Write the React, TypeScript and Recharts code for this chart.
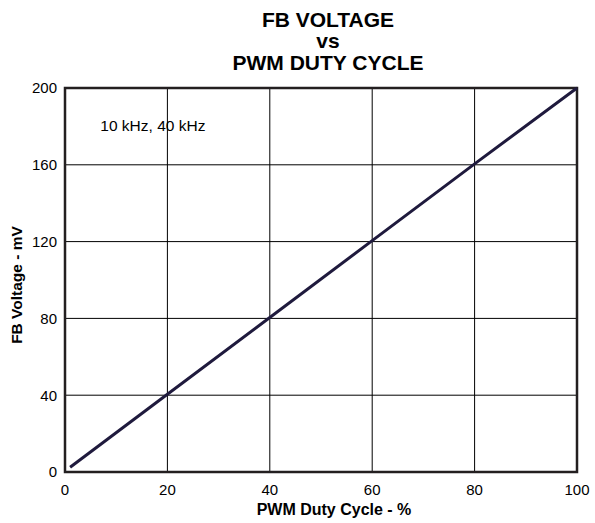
import { LineChart, Line, XAxis, YAxis, CartesianGrid, ReferenceArea, ReferenceDot } from "recharts";

const dutyCycle = [1, 20, 40, 60, 80, 100];
const fbVoltage = [2.5, 40.5, 80.5, 120.5, 160.5, 200];
const xTicks = [0, 20, 40, 60, 80, 100];
const yTicks = [0, 40, 80, 120, 160, 200];
const titleLines = ["FB VOLTAGE", "vs", "PWM DUTY CYCLE"];
const titleBaselines = [27, 48, 70];

const data = dutyCycle.map((d, i) => ({ duty: d, fb: fbVoltage[i] }));

const FONT = "'Liberation Sans', Arial, sans-serif";
const INK = "#231f20";

export default function App() {
  return (
    <div style={{ position: "absolute", left: 0, top: 0, width: 595, height: 523, background: "#fff" }}>
      <svg width={595} height={85} style={{ position: "absolute", left: 0, top: 0 }}>
        {titleLines.map((t, i) => (
          <text key={t} x={328} y={titleBaselines[i]} textAnchor="middle" fontFamily={FONT} fontWeight="bold" fontSize={21} fill="#000">
            {t}
          </text>
        ))}
      </svg>
      <LineChart width={595} height={523} data={data} margin={{ top: 88, right: 18, bottom: 0, left: 0 }}>
        <CartesianGrid stroke="#000" strokeWidth={1} />
        <XAxis
          dataKey="duty"
          type="number"
          domain={[0, 100]}
          ticks={xTicks}
          tickLine={false}
          axisLine={false}
          height={51}
          tick={{ fill: "#000", fontSize: 15, fontFamily: FONT }}
          tickMargin={6}
          label={{
            content: (p: any) => (
              <text x={p.viewBox.x + p.viewBox.width / 2 + 13} y={515} textAnchor="middle" fontFamily={FONT} fontWeight="bold" fontSize={16} fill="#000">
                PWM Duty Cycle - %
              </text>
            ),
          }}
        />
        <YAxis
          type="number"
          domain={[0, 200]}
          ticks={yTicks}
          tickLine={false}
          axisLine={false}
          width={65}
          tick={{ fill: "#000", fontSize: 15, fontFamily: FONT }}
          tickMargin={2}
          label={{
            content: (p: any) => (
              <text
                x={21.5}
                y={285}
                transform="rotate(-90 21.5 285)"
                textAnchor="middle"
                fontFamily={FONT}
                fontWeight="bold"
                fontSize={15.5}
                fill="#000"
              >
                FB Voltage - mV
              </text>
            ),
          }}
        />
        <ReferenceArea x1={0} x2={100} y1={0} y2={200} fill="none" stroke={INK} strokeWidth={2.5} ifOverflow="visible" />
        <Line dataKey="fb" type="linear" stroke="#1f1a3d" strokeWidth={3} dot={false} isAnimationActive={false} />
        <ReferenceDot
          x={6.9}
          y={180}
          r={0}
          shape={(p: any) => (
            <text x={p.cx} y={p.cy} dy={5} fontSize={15.5} fontFamily={FONT} fill="#000">
              10 kHz, 40 kHz
            </text>
          )}
        />
      </LineChart>
    </div>
  );
}
